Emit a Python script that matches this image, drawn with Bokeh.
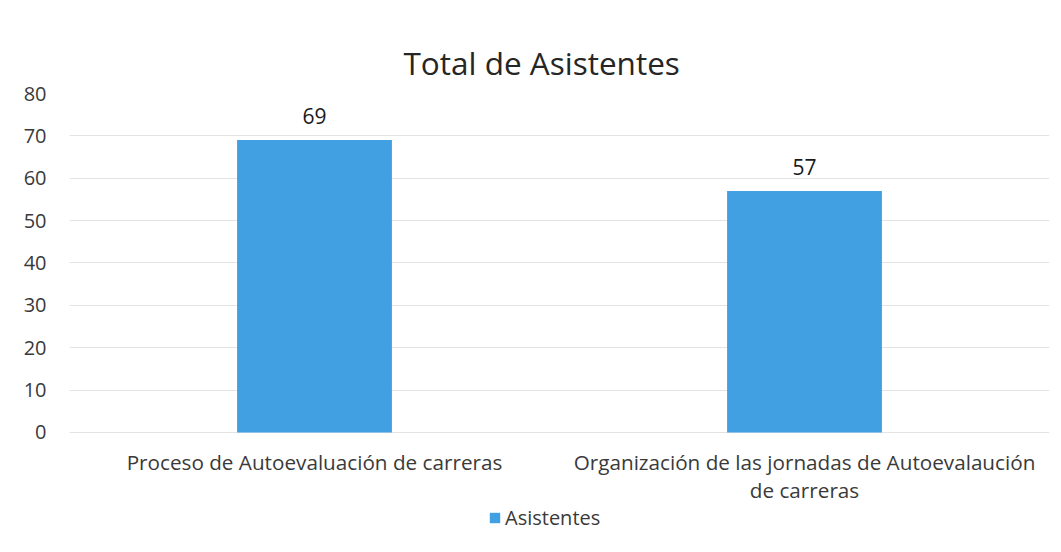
from bokeh.plotting import figure
from bokeh.models import ColumnDataSource, Legend, LegendItem, Title
from bokeh.core.properties import value
from bokeh.embed import file_html
from bokeh.resources import INLINE

categories = ["Proceso de Autoevaluación de carreras",
              "Organización de las jornadas de Autoevalaución de carreras"]
category_labels = ["Proceso de Autoevaluación de carreras",
                   "Organización de las jornadas de Autoevalaución\nde carreras"]
asistentes = [69, 57]
series_name = "Asistentes"
title_text = "Total de Asistentes"
y_ticks = [0, 10, 20, 30, 40, 50, 60, 70, 80]

FONT = "Open Sans"
BAR = "#41a0e1"
TXT = "#3a3a3a"
Y_MIN = -26.7   # room below zero inside the frame for category labels and legend

src = ColumnDataSource(dict(cat=category_labels, name=categories, val=asistentes,
                            lab=[str(v) for v in asistentes]))

p = figure(x_range=category_labels, y_range=(Y_MIN, 80),
           frame_width=980, frame_height=452,
           output_backend="svg", toolbar_location=None,
           min_border_left=69, min_border_right=12, min_border_top=93,
           min_border_bottom=0)
p.title = Title(text=title_text, align="left", offset=334, text_font=FONT,
                text_font_size="31.5px", text_font_style="normal",
                text_color="#262626", standoff=20)
p.outline_line_color = None
p.background_fill_color = "white"
p.border_fill_color = "white"

r = p.vbar(x="cat", top="val", bottom=0, width=0.316, source=src, color=BAR,
           line_color=None)
p.text(x="cat", y="val", text="lab", source=src, text_align="center",
       text_baseline="middle", y_offset=-24, text_font=value(FONT),
       text_font_size="21px", text_color="#1a1a1a")

p.yaxis.ticker = y_ticks
p.yaxis.axis_line_color = None
p.yaxis.major_tick_line_color = None
p.yaxis.minor_tick_line_color = None
p.yaxis.major_label_text_font = FONT
p.yaxis.major_label_text_font_size = "20px"
p.yaxis.major_label_text_color = TXT
p.yaxis.major_label_standoff = 17

p.xaxis.fixed_location = 0
p.xaxis.axis_line_color = None
p.xaxis.major_tick_line_color = None
p.xaxis.major_label_text_font = FONT
p.xaxis.major_label_text_font_size = "20.7px"
p.xaxis.major_label_text_color = TXT
p.xaxis.major_label_text_line_height = 0.97
p.xaxis.major_label_standoff = 10

p.xgrid.grid_line_color = None
p.ygrid.grid_line_color = "#e3e3e3"
p.ygrid.grid_line_width = 1

legend = Legend(items=[LegendItem(label=series_name, renderers=[r])],
                orientation="horizontal", location=(419, 14),
                label_text_font=FONT, label_text_font_size="20px",
                label_text_color=TXT, border_line_color=None,
                background_fill_alpha=0,
                glyph_width=13, glyph_height=13, label_standoff=4,
                label_height=20, padding=0, margin=0)
p.add_layout(legend, "center")

open("out.html", "w").write(file_html(p, INLINE))
